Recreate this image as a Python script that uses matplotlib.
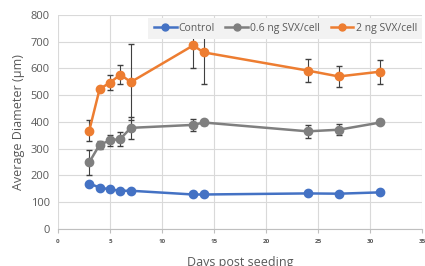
import numpy as np
import matplotlib
matplotlib.use("Agg")
import matplotlib.pyplot as plt
from matplotlib.lines import Line2D

plt.rcParams['font.family'] = ['Open Sans', 'DejaVu Sans']

days = [3, 4, 5, 6, 7, 13, 14, 24, 27, 31]

control = [170, 155, 148, 143, 143, 129, 129, 133, 132, 137]

svx_06 = [249, 315, 331, 337, 378, 389, 398, 365, 371, 398]
svx_06_err = [48, 15, 22, 25, 41, 22, 8, 25, 20, 0]

svx_2 = [367, 523, 547, 577, 549, 686, 660, 592, 570, 588]
svx_2_err = [39, 8, 28, 37, 142, 86, 118, 42, 40, 45]

labels = ['Control', '0.6 ng SVX/cell', '2 ng SVX/cell']
blue = '#4472C4'
grey = '#7F7F7F'
orange = '#ED7D31'
txt = '#595959'

fig = plt.figure(figsize=(4.25, 2.66), dpi=100)
ax = fig.add_axes([0.1365, 0.139, 0.8565, 0.805])

ax.plot(days, control, color=blue, marker='o', ms=6, lw=1.8, zorder=3)
ax.errorbar(days, svx_06, yerr=svx_06_err, color=grey, marker='o', ms=6,
            lw=1.8, ecolor='#404040', elinewidth=0.8, capsize=2.5, zorder=3)
ax.errorbar(days, svx_2, yerr=svx_2_err, color=orange, marker='o', ms=6,
            lw=1.8, ecolor='#404040', elinewidth=0.8, capsize=2.5, zorder=3)

ax.set_xlim(0, 35)
ax.set_ylim(0, 800)
ax.set_xticks(np.arange(0, 36, 5))
ax.set_yticks(np.arange(0, 801, 100))
ax.grid(True, color='#D9D9D9', lw=0.8)
ax.set_axisbelow(True)
for s in ['top', 'right', 'left']:
    ax.spines[s].set_visible(False)
ax.spines['bottom'].set_color('#BFBFBF')
ax.tick_params(axis='y', length=0, labelsize=8, labelcolor=txt, pad=6)
ax.tick_params(axis='x', length=3, color='#BFBFBF', labelsize=4.5,
               labelcolor=txt, pad=4)
for lb in ax.get_xticklabels():
    lb.set_fontweight('bold')

ax.set_xlabel('Days post seeding', fontsize=9, color=txt, labelpad=9)
ax.set_ylabel('Average Diameter (\u00b5m)', fontsize=9, color=txt, labelpad=4)

handles = [Line2D([], [], color=c, marker='o', ms=5, lw=1.8)
           for c in [blue, grey, orange]]
leg = ax.legend(handles, labels, loc='upper right', ncol=3, fontsize=7.5,
                frameon=True, bbox_to_anchor=(1.0, 0.986), borderaxespad=0,
                handlelength=2.2, handletextpad=0.2, columnspacing=1.0,
                borderpad=0.5)
leg.set_zorder(5)
leg.get_frame().set_facecolor('#F2F2F2')
leg.get_frame().set_edgecolor('none')
leg.get_frame().set_alpha(1)
leg.get_frame().set_boxstyle('square', pad=0)
for t in leg.get_texts():
    t.set_color(txt)

fig.savefig('out.png', dpi=100)
